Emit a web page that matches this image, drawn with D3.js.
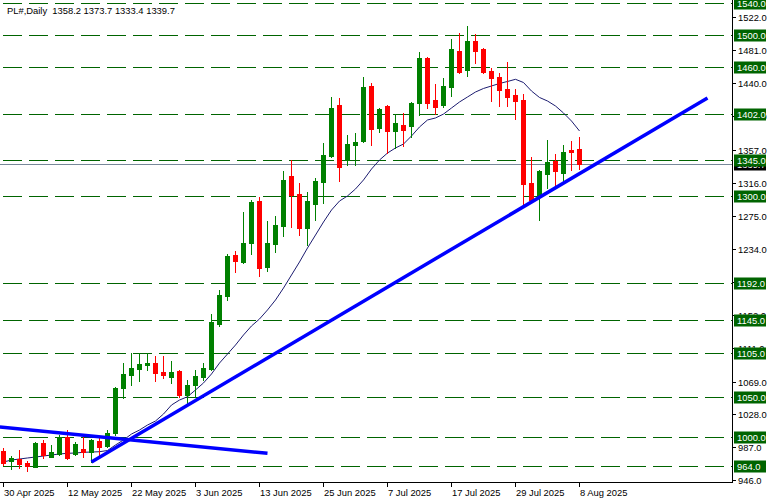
<!DOCTYPE html>
<html><head><meta charset="utf-8">
<script src="https://cdn.jsdelivr.net/npm/d3@7"></script>
<style>html,body{margin:0;padding:0;background:#fff;overflow:hidden}svg{display:block}text{font-family:"Liberation Sans",Arial,sans-serif;font-size:9.4px}</style>
</head><body>
<script>
const symbolTitle = "PL#,Daily  1358.2 1373.7 1333.4 1339.7";
const dates = ["2025-04-30","2025-05-01","2025-05-02","2025-05-05","2025-05-06","2025-05-07","2025-05-08","2025-05-09",
"2025-05-12","2025-05-13","2025-05-14","2025-05-15","2025-05-16","2025-05-19","2025-05-20","2025-05-21",
"2025-05-22","2025-05-23","2025-05-26","2025-05-27","2025-05-28","2025-05-29","2025-05-30","2025-06-02",
"2025-06-03","2025-06-04","2025-06-05","2025-06-06","2025-06-09","2025-06-10","2025-06-11","2025-06-12",
"2025-06-13","2025-06-16","2025-06-17","2025-06-18","2025-06-19","2025-06-20","2025-06-23","2025-06-24",
"2025-06-25","2025-06-26","2025-06-27","2025-06-30","2025-07-01","2025-07-02","2025-07-03","2025-07-04",
"2025-07-07","2025-07-08","2025-07-09","2025-07-10","2025-07-11","2025-07-14","2025-07-15","2025-07-16",
"2025-07-17","2025-07-18","2025-07-21","2025-07-22","2025-07-23","2025-07-24","2025-07-25","2025-07-28",
"2025-07-29","2025-07-30","2025-07-31","2025-08-01","2025-08-04","2025-08-05","2025-08-06","2025-08-07","2025-08-08"];
const opens = [983.0,970.5,973.0,968.0,963.1,992.2,975.5,978.9,999.6,978.5,985.4,981.7,995.4,988.8,1005.4,1060.6,
1077.1,1084.2,1089.5,1092.4,1080.8,1075.0,1082.1,1052.2,1064.7,1075.0,1084.6,1140.5,1175.4,1226.4,1218.0,1241.7,
1293.5,1211.8,1240.1,1262.4,1324.6,1302.6,1260.3,1289.8,1317.5,1349.5,1412.9,1344.5,1363.2,1368.5,1436.9,1384.7,
1411.7,1381.0,1388.1,1386.8,1415.1,1471.0,1419.2,1412.9,1435.7,1480.1,1456.5,1492.5,1482.6,1455.2,1448.1,1432.5,
1425.4,1419.2,1316.3,1298.9,1327.1,1343.7,1328.7,1357.0,1358.2];
const highs = [986.3,976.4,983.8,970.2,994.2,996.3,990.0,1002.5,1008.7,994.2,999.6,997.0,998.4,1008.7,1062.6,1091.7,
1104.1,1104.1,1104.1,1100.7,1100.7,1094.9,1083.3,1070.9,1083.3,1091.7,1153.0,1182.8,1227.6,1231.7,1280.2,1294.8,
1298.9,1268.7,1274.9,1330.8,1344.5,1316.3,1305.1,1321.8,1365.3,1422.5,1421.3,1375.6,1377.7,1448.1,1439.9,1408.8,
1412.9,1401.4,1403.4,1416.5,1478.5,1473.0,1439.1,1446.9,1495.0,1502.9,1511.2,1501.2,1483.5,1458.6,1452.4,1466.4,
1432.5,1426.6,1348.6,1332.1,1369.4,1352.0,1363.2,1368.5,1373.7];
const lows = [965.2,960.2,961.4,958.1,962.3,973.5,974.7,977.2,972.6,977.6,974.7,969.0,977.6,987.2,1002.5,1048.1,
1064.7,1070.0,1083.3,1070.0,1073.0,1066.8,1049.4,1041.9,1049.4,1070.9,1083.3,1138.1,1170.4,1205.6,1216.8,1227.6,
1200.3,1206.5,1230.1,1250.0,1261.6,1251.2,1238.8,1269.9,1291.4,1348.6,1318.8,1338.3,1338.3,1367.3,1363.2,1379.7,
1352.9,1359.1,1361.9,1373.5,1400.5,1408.8,1401.7,1410.8,1424.1,1452.4,1449.0,1464.8,1452.4,1418.3,1411.1,1411.7,
1395.5,1286.4,1294.0,1269.9,1309.3,1309.3,1318.8,1332.1,1333.4];
const closes = [968.0,973.5,966.4,963.9,992.2,977.6,981.3,999.6,973.5,990.9,981.3,995.9,987.9,1005.4,1060.6,1078.4,
1085.4,1090.8,1092.4,1080.0,1077.5,1080.8,1052.2,1064.7,1075.9,1085.4,1143.4,1176.6,1225.1,1218.9,1240.9,1292.7,
1210.6,1240.9,1263.7,1319.7,1301.4,1260.3,1293.5,1318.4,1350.7,1408.8,1336.2,1364.4,1366.9,1435.7,1383.1,1407.6,
1381.0,1390.9,1381.8,1415.8,1471.8,1415.8,1410.8,1436.6,1482.6,1453.6,1492.5,1480.1,1454.4,1446.9,1431.6,1423.3,
1417.9,1314.7,1294.8,1331.2,1342.0,1330.8,1354.9,1354.9,1339.7];
const maValues = [968.9,971.4,972.6,973.9,975.1,976.4,977.6,978.9,979.7,980.1,981.0,981.3,981.7,983.2,990.1,996.3,
1003.7,1008.7,1014.9,1019.9,1028.6,1039.8,1046.0,1050.1,1058.5,1067.2,1078.4,1092.0,1103.2,1114.4,1126.9,1138.1,
1146.8,1158.0,1170.4,1185.3,1201.5,1217.7,1235.1,1251.2,1267.4,1282.3,1293.5,1299.8,1308.5,1319.7,1333.3,1344.5,
1353.2,1359.5,1364.4,1374.4,1385.6,1394.3,1396.8,1401.7,1409.2,1416.7,1422.9,1429.1,1433.5,1436.6,1439.7,1442.2,
1444.9,1440.9,1430.3,1422.3,1417.9,1411.7,1403.0,1393.0,1380.6];
const levels = [1540.0,1500.0,1460.0,1402.0,1345.0,1300.0,1192.0,1145.0,1105.0,1050.0,1000.0,964.0];
const priceTicks = [1522,1481,1440,1399,1357,1316,1275,1234,1193,1152,1111,1069,1028,987,946];
const dateTickIdx = [0,8,16,24,32,40,48,56,64,72];
const bidPrice = 1339.7;
// trendlines: [barIndex, price]
const trendUp = [[11,969.0],[88,1421.6]];
const trendDown = [[-0.45,1012.4],[33,979.7]];

const W=773,H=504, plotR=732, plotB=482;
const svg=d3.select("body").append("svg").attr("width",W).attr("height",H);
const x=d3.scaleLinear().domain([0,72]).range([3.5,579.5]);
const y=d3.scaleLinear().domain([1000,1500]).range([437,35]);
const py=v=>Math.round(y(v));

svg.append("clipPath").attr("id","clip").append("rect").attr("x",0).attr("y",0).attr("width",plotR).attr("height",plotB);
const g=svg.append("g").attr("clip-path","url(#clip)");

// level lines
g.selectAll("line.lvl").data(levels).join("line")
 .attr("x1",3).attr("x2",plotR).attr("y1",d=>py(d)+0.5).attr("y2",d=>py(d)+0.5)
 .attr("stroke","#006400").attr("stroke-width",1).attr("stroke-dasharray","19,7");

// bid line
g.append("line").attr("x1",0).attr("x2",plotR).attr("y1",py(bidPrice)+0.5).attr("y2",py(bidPrice)+0.5)
 .attr("stroke","#778899").attr("stroke-width",1);

// MA
g.append("path").datum(maValues)
 .attr("d",d3.line().x((d,i)=>x(i)).y(d=>y(d)))
 .attr("fill","none").attr("stroke","#1c1c70").attr("stroke-width",1);

// candles
const idx=d3.range(dates.length);
const col=i=>closes[i]>=opens[i]?"#008000":"#ff0000";
g.selectAll("line.wick").data(idx).join("line")
 .attr("x1",i=>x(i)).attr("x2",i=>x(i))
 .attr("y1",i=>py(highs[i])).attr("y2",i=>py(lows[i])+1)
 .attr("stroke",col).attr("stroke-width",1);
g.selectAll("rect.body").data(idx).join("rect")
 .attr("x",i=>x(i)-2.5).attr("width",5)
 .attr("y",i=>py(Math.max(opens[i],closes[i])))
 .attr("height",i=>Math.max(1,py(Math.min(opens[i],closes[i]))-py(Math.max(opens[i],closes[i]))+1))
 .attr("fill",col);

// trendlines
[trendUp,trendDown].forEach(t=>{
 g.append("line").attr("x1",x(t[0][0])).attr("y1",y(t[0][1])).attr("x2",x(t[1][0])).attr("y2",y(t[1][1]))
  .attr("stroke","#0000ff").attr("stroke-width",3.5);
});

// axes lines
svg.append("line").attr("x1",plotR+0.5).attr("x2",plotR+0.5).attr("y1",0).attr("y2",plotB+1).attr("stroke","#000");
svg.append("line").attr("x1",0).attr("x2",plotR+1).attr("y1",plotB+0.5).attr("y2",plotB+0.5).attr("stroke","#000");

// price ticks
svg.selectAll("line.pt").data(priceTicks).join("line")
 .attr("x1",plotR).attr("x2",plotR+4).attr("y1",d=>py(d)+0.5).attr("y2",d=>py(d)+0.5).attr("stroke","#000");
svg.selectAll("text.pt").data(priceTicks).join("text")
 .attr("x",plotR+6).attr("y",d=>py(d)+3.5).attr("fill","#000").text(d=>d3.format(".1f")(d));

// bid label
const bg=svg.append("g");
bg.append("rect").attr("x",plotR+2).attr("y",py(bidPrice)-5.5).attr("width",32).attr("height",12).attr("fill","#000");
bg.append("text").attr("x",plotR+5).attr("y",py(bidPrice)+4).attr("fill","#fff").text(d3.format(".1f")(bidPrice));

// level labels
const lg=svg.selectAll("g.lv").data(levels).join("g");
lg.append("rect").attr("x",plotR+2).attr("y",d=>py(d)-5.5).attr("width",32).attr("height",12).attr("fill","#006400");
lg.append("text").attr("x",plotR+5).attr("y",d=>py(d)+4).attr("fill","#fff").text(d=>d3.format(".1f")(d));

// date ticks
const fmt=d3.timeFormat("%-d %b %Y"), parse=d3.timeParse("%Y-%m-%d");
svg.selectAll("line.dt").data(dateTickIdx).join("line")
 .attr("x1",i=>Math.floor(x(i))+0.5).attr("x2",i=>Math.floor(x(i))+0.5).attr("y1",plotB).attr("y2",plotB+5).attr("stroke","#000");
svg.selectAll("text.dt").data(dateTickIdx).join("text")
 .attr("x",i=>Math.floor(x(i))+1).attr("y",plotB+14).attr("fill","#000").text(i=>fmt(parse(dates[i])));

// title
svg.append("text").attr("x",7).attr("y",14).attr("fill","#000").text(symbolTitle).attr("xml:space","preserve").style("white-space","pre");
</script>
</body></html>
